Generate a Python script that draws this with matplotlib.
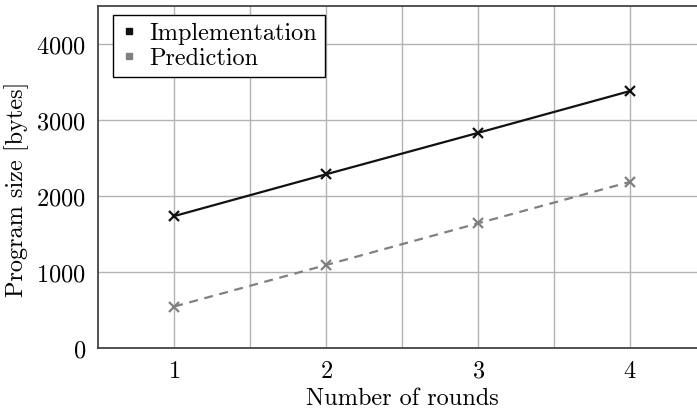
import matplotlib
matplotlib.use('Agg')
import matplotlib.pyplot as plt
from matplotlib.lines import Line2D

# data
rounds = [1, 2, 3, 4]
implementation = [1740, 2290, 2835, 3385]
prediction = [550, 1096, 1645, 2190]

plt.rcParams['font.family'] = ['cmr10', 'DejaVu Serif']
plt.rcParams['axes.formatter.use_mathtext'] = True
fs = 17.5

fig = plt.figure(figsize=(6.97, 4.10), dpi=100)
ax = fig.add_axes([98.3 / 697, 60.7 / 410, (706 - 98.3) / 697, (349.3 - 7.3) / 410])

ax.plot(rounds, implementation, color='#111111', lw=1.6, marker='x', ms=6.5, mew=1.6, zorder=3)
ax.plot(rounds, prediction, color='#808080', lw=1.6, ls=(0, (4, 3)), marker='x', ms=6.5, mew=1.6, zorder=3)

ax.set_xlim(0.5, 4.5)
ax.set_ylim(0, 4500)
ax.set_xticks(rounds)
ax.set_xticks([1.5, 2.5, 3.5], minor=True)
ax.set_yticks([0, 1000, 2000, 3000, 4000])
ax.grid(True, which='both', axis='x', color='#b3b3b3', lw=1)
ax.grid(True, which='major', axis='y', color='#b3b3b3', lw=1)
ax.set_axisbelow(True)
ax.tick_params(which='both', length=0, labelsize=fs)
ax.tick_params(axis='y', pad=9)
ax.tick_params(axis='x', pad=8)
for s in ax.spines.values():
    s.set_color('#444444')
    s.set_linewidth(1.3)

ax.set_xlabel('Number of rounds', fontsize=fs, labelpad=4)
ax.set_ylabel('Program size [bytes]', fontsize=fs)
ax.yaxis.set_label_coords(-(98.3 - 29) / (706 - 98.3), (349.3 - 189) / 342)

handles = [Line2D([], [], ls='none', marker='s', ms=5, color='#111111'),
           Line2D([], [], ls='none', marker='s', ms=5, color='#808080')]
leg = ax.legend(handles, ['Implementation', 'Prediction'], loc='upper left',
                bbox_to_anchor=(113 / 697, 1 - 16 / 410), bbox_transform=fig.transFigure,
                borderaxespad=0, fancybox=False, framealpha=1, edgecolor='black',
                fontsize=fs, handlelength=0.7, handletextpad=0.5, labelspacing=0.12,
                borderpad=0.3)
leg.get_frame().set_linewidth(1.0)

fig.savefig('out.png', dpi=100)
